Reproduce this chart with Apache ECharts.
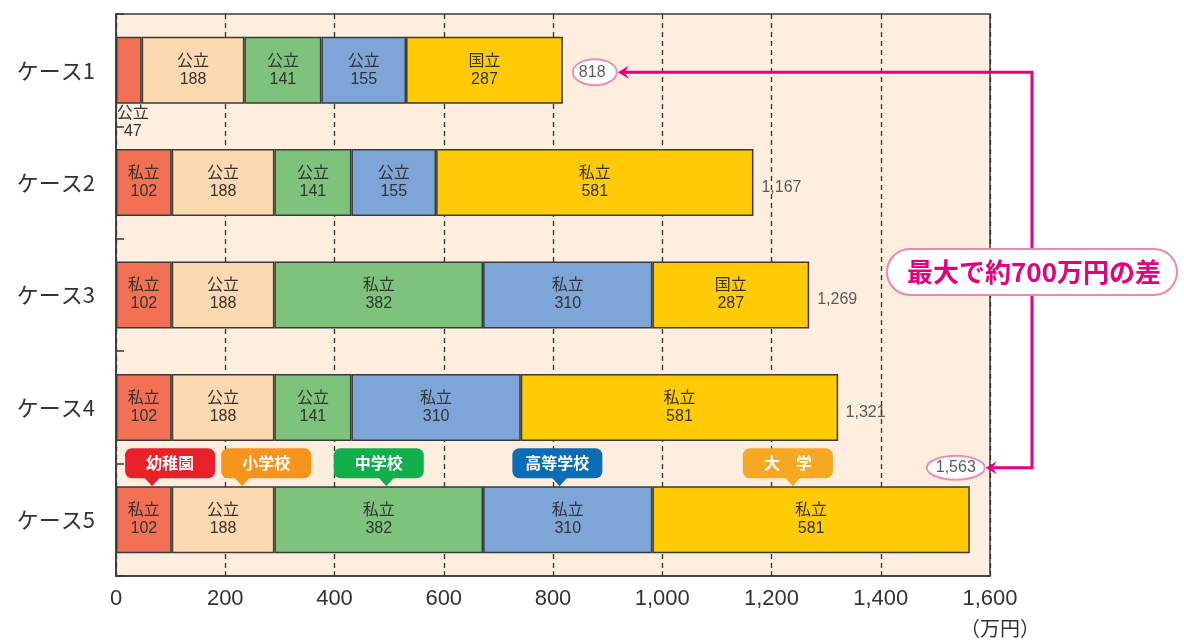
<!DOCTYPE html>
<html><head><meta charset="utf-8">
<script src="https://cdn.jsdelivr.net/npm/echarts@6/dist/echarts.min.js"></script>
<style>html,body{margin:0;padding:0;background:#fff}#c{width:1184px;height:641px}</style>
</head><body><div id="c"></div>
<script>
const cases = ['ケース1','ケース2','ケース3','ケース4','ケース5'];
const stages = ['幼稚園','小学校','中学校','高等学校','大学'];
const stageLabels = ['幼稚園','小学校','中学校','高等学校','大　学'];
const kindergarten = [47,102,102,102,102];
const elementary = [188,188,188,188,188];
const juniorHigh = [141,141,382,141,382];
const highSchool = [155,155,310,310,310];
const university = [287,581,287,581,581];
const kgType = ['公立','私立','私立','私立','私立'];
const elemType = ['公立','公立','公立','公立','公立'];
const jhType = ['公立','公立','私立','公立','私立'];
const hsType = ['公立','公立','私立','私立','私立'];
const uniType = ['国立','私立','国立','私立','私立'];
const totals = [818,1167,1269,1321,1563];
const totalLabels = ['818','1,167','1,269','1,321','1,563'];
const xMin = 0, xMax = 1600, xStep = 200;
const calloutBoxAt = [99, 275, 481, 808, 1230];
const calloutPointerAt = [66, 231, 495, 812, 1239];
const diffText = '最大で約700万円の差';
const unitText = '（万円）';

const stageColors = ['#F27155','#FDD9B1','#7DC37B','#7DA5D7','#FFCB05'];
const calloutColors = ['#E8202A','#F7941D','#11AE4C','#0B6DB5','#F7A823'];
const PINK = '#E4007F';
const FONT = '"Liberation Sans", "Noto Sans CJK JP", sans-serif';
const JFONT = '"Noto Sans CJK JP", sans-serif';

const values = [kindergarten, elementary, juniorHigh, highSchool, university];
const types = [kgType, elemType, jhType, hsType, uniType];

const chart = echarts.init(document.getElementById('c'), null, {renderer:'canvas'});

const barSeries = stages.map((s, si) => ({
  name: s, type: 'bar', stack: 'total', barWidth: 67,
  itemStyle: {color: stageColors[si], borderColor: '#3a3a3a', borderWidth: 1.5},
  label: {
    show: true, position: 'inside', color: '#333', fontSize: 16, lineHeight: 18,
    fontFamily: FONT,
    formatter: p => types[si][p.dataIndex] + '\n' + p.value
  },
  data: values[si].map((v, i) => {
    if (si === 0 && i === 0) {
      return {value: v, label: {position: 'bottom', distance: 1, offset: [4, 0]}};
    }
    return v;
  }),
  z: 2
}));

const totalSeries = {
  type: 'scatter', symbolSize: 0, silent: true, z: 6,
  data: totals.map((t, i) => {
    const base = {value: [t, i]};
    if (i === 0) {
      base.label = {position: 'right', distance: 16, offset: [0, 2], fontSize: 16};
    } else if (i === 4) {
      base.label = {position: 'top', distance: 44, offset: [-14, 0], fontSize: 16};
    } else {
      base.label = {position: 'right', distance: 8, offset: [0, 5], fontSize: 16};
    }
    return base;
  }),
  label: {show: true, fontFamily: FONT, color: '#333', formatter: p => totalLabels[p.dataIndex]}
};

chart.setOption({
  animation: false,
  backgroundColor: '#fff',
  grid: {left: 116, right: 194, top: 14, bottom: 65, show: true,
    backgroundColor: '#FDEEDF', borderColor: '#3a3a3a', borderWidth: 1.5},
  xAxis: {
    type: 'value', min: xMin, max: xMax, interval: xStep,
    axisLine: {show: true, lineStyle: {color: '#3a3a3a', width: 1.5}},
    axisTick: {show: true, inside: true, length: 5, lineStyle: {color: '#3a3a3a'}},
    axisLabel: {fontSize: 22, color: '#333', margin: 12, fontFamily: FONT,
      formatter: v => v.toLocaleString('en-US')},
    splitLine: {show: true, lineStyle: {color: '#333', width: 1.3, type: [5, 4]}}
  },
  yAxis: {
    type: 'category', data: cases, inverse: true,
    axisLine: {show: true, lineStyle: {color: '#3a3a3a', width: 1.5}},
    axisTick: {show: true, inside: true, length: 8, lineStyle: {color: '#3a3a3a', width: 1.5}},
    axisLabel: {fontSize: 22, color: '#333', margin: 21, fontFamily: JFONT}
  },
  series: barSeries.concat([totalSeries])
});

// annotations
const px = v => chart.convertToPixel({xAxisIndex: 0}, v);
const py = c => chart.convertToPixel({yAxisIndex: 0}, c);
const g = [];
const y5 = py(cases[4]);
const barTop = y5 - 33.5;
stages.forEach((s, i) => {
  const cx = px(calloutBoxAt[i]);
  const tx = px(calloutPointerAt[i]);
  const bw = 90, bh = 30;
  const bottom = barTop - 8;
  g.push({type: 'rect', shape: {x: cx - bw/2, y: bottom - bh, width: bw, height: bh, r: 7},
    style: {fill: calloutColors[i]}, z: 10});
  g.push({type: 'polygon', shape: {points: [[tx - 8, bottom - 1], [tx + 8, bottom - 1], [tx, barTop]]},
    style: {fill: calloutColors[i]}, z: 10});
  g.push({type: 'text', x: cx, y: bottom - bh/2, z: 11,
    style: {text: stageLabels[i], fill: '#fff', font: 'bold 16px ' + JFONT, align: 'center', verticalAlign: 'middle'}});
});

const y1 = py(cases[0]) + 2;
const yb = y5 - 52;
const bx = px(xMax) + 42;
const e1x = px(totals[0]) + 32;
const e5x = px(totals[4]) - 14;
const tip1 = e1x + 23;
const tip5 = e5x + 30;
g.push({type: 'ellipse', shape: {cx: e1x, cy: y1, rx: 22, ry: 13},
  style: {fill: '#fff', stroke: '#F08DB5', lineWidth: 2}, z: 3});
g.push({type: 'ellipse', shape: {cx: e5x, cy: yb, rx: 29, ry: 12},
  style: {fill: '#fff', stroke: '#F08DB5', lineWidth: 2}, z: 3});
g.push({type: 'polyline', shape: {points: [[tip1 + 6, y1], [bx, y1], [bx, yb], [tip5 + 6, yb]]},
  style: {stroke: PINK, lineWidth: 3, fill: null}, z: 8});
[[tip1, y1], [tip5, yb]].forEach(([x, y]) => {
  g.push({type: 'polygon', shape: {points: [[x, y], [x + 11, y - 6.5], [x + 7, y], [x + 11, y + 6.5]]},
    style: {fill: PINK}, z: 9});
});
const my = (y1 + yb) / 2 + 2;
g.push({type: 'rect', shape: {x: bx - 145, y: my - 23, width: 290, height: 46, r: 23},
  style: {fill: '#fff', stroke: '#EE86B0', lineWidth: 2}, z: 10});
g.push({type: 'text', x: bx + 2, y: my, z: 11,
  style: {text: diffText, fill: PINK, font: 'bold 26px ' + JFONT, align: 'center', verticalAlign: 'middle'}});
g.push({type: 'text', x: px(xMax) + 10, y: 628, z: 11,
  style: {text: unitText, fill: '#333', font: '20px ' + JFONT, align: 'center', verticalAlign: 'middle'}});

chart.setOption({graphic: g});
</script></body></html>
